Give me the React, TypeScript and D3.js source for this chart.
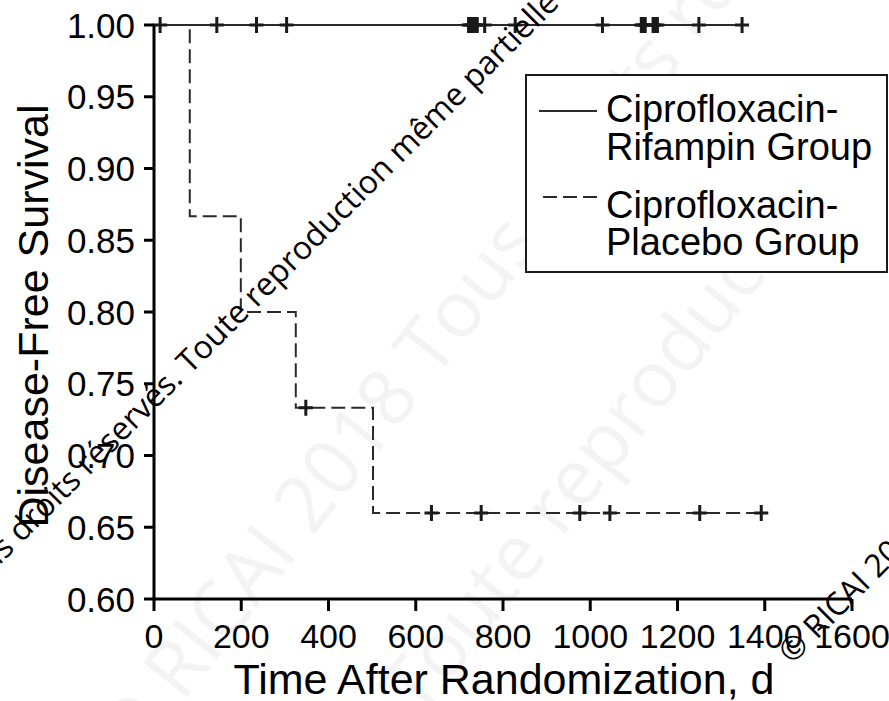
import React from "react";
import * as d3 from "d3";

// ---- Data ----
const placeboTimes = [0, 82, 199, 325, 502, 1392];
const placeboSurv = [1, 0.8667, 0.8, 0.7333, 0.66, 0.66];
const rifampinTimes = [0, 1348];
const rifampinSurv = [1, 1];
const rifampinCensor = [14, 144, 235, 304, 721, 725, 729, 733, 737, 741, 758, 828, 1028, 1117, 1121, 1126, 1144, 1149, 1154, 1249, 1348];
const placeboCensor = [348, 636, 750, 976, 1045, 1251, 1392];
const xTicks = [0, 200, 400, 600, 800, 1000, 1200, 1400, 1600];
const yTicks = [0.6, 0.65, 0.7, 0.75, 0.8, 0.85, 0.9, 0.95, 1.0];
const legendLabels = [
  ["Ciprofloxacin-", "Rifampin Group"],
  ["Ciprofloxacin-", "Placebo Group"],
];
const xTitle = "Time After Randomization, d";
const yTitle = "Disease-Free Survival";

const W = 889;
const H = 701;
const FONT = "'Liberation Sans', Arial, Helvetica, sans-serif";
const WM_FONT = "'Open Sans', 'Noto Sans', sans-serif";
const NBSP = "\u00A0";

export default function App() {
  const x = d3.scaleLinear().domain([0, 1600]).range([154, 852]);
  const y = d3.scaleLinear().domain([0.6, 1.0]).range([599, 25]);

  const line = d3
    .line<[number, number]>()
    .x((d) => x(d[0]))
    .y((d) => y(d[1]))
    .curve(d3.curveStepAfter);

  const placeboPts: [number, number][] = placeboTimes.map((t, i) => [t, placeboSurv[i]]);
  const rifPts: [number, number][] = rifampinTimes.map((t, i) => [t, rifampinSurv[i]]);

  const survAt = (times: number[], surv: number[], t: number) => {
    let s = surv[0];
    for (let i = 0; i < times.length; i++) if (times[i] <= t) s = surv[i];
    return s;
  };

  const plus = "M-7,0H7M0,-8V8";
  const lineColor = "#2a2a2a";

  return (
    <svg
      width={W}
      height={H}
      viewBox={`0 0 ${W} ${H}`}
      style={{ position: "fixed", left: 0, top: 0, background: "#fff" }}
    >
      <rect x={0} y={0} width={W} height={H} fill="#fff" />

      {/* faint background watermark */}
      <g fill="#f3f3f3" fontFamily={WM_FONT} fontSize={78}>
        <text transform="translate(130,770) rotate(-52)">© RICAI 2018 Tous droits réservés</text>
        <text transform="translate(420,720) rotate(-52)">Toute reproduction</text>
      </g>

      {/* survival curves */}
      <path d={line(rifPts) || ""} fill="none" stroke={lineColor} strokeWidth={2} />
      <path
        d={line(placeboPts) || ""}
        fill="none"
        stroke={lineColor}
        strokeWidth={2}
        strokeDasharray="14,6"
      />

      {/* censor marks */}
      <g stroke="#1a1a1a" strokeWidth={3} fill="none">
        {rifampinCensor.map((t, i) => (
          <path key={"r" + i} d={plus} transform={`translate(${x(t)},${y(survAt(rifampinTimes, rifampinSurv, t))})`} />
        ))}
        {placeboCensor.map((t, i) => (
          <path key={"p" + i} d={plus} transform={`translate(${x(t)},${y(survAt(placeboTimes, placeboSurv, t))})`} />
        ))}
      </g>

      {/* axes */}
      <g stroke="#000" strokeWidth={3} fill="none">
        <line x1={x(0)} x2={x(0)} y1={y(1.0)} y2={y(0.6) + 1.5} />
        <line x1={x(0) - 1.5} x2={x(1600)} y1={y(0.6)} y2={y(0.6)} />
        {yTicks.map((v) => (
          <line key={"yt" + v} x1={x(0) - 10} x2={x(0)} y1={y(v)} y2={y(v)} />
        ))}
        {xTicks.map((v) => (
          <line key={"xt" + v} x1={x(v)} x2={x(v)} y1={y(0.6)} y2={y(0.6) + 12} />
        ))}
      </g>
      <g fontFamily={FONT} fill="#000">
        {yTicks.map((v) => (
          <text key={"yl" + v} x={135} y={y(v)} dy="0.36em" fontSize={35} textAnchor="end">
            {d3.format(".2f")(v)}
          </text>
        ))}
        {xTicks.map((v) => (
          <text key={"xl" + v} x={x(v)} y={648} fontSize={34} textAnchor="middle">
            {v}
          </text>
        ))}
        <text x={504} y={694} fontSize={43} textAnchor="middle">
          {xTitle}
        </text>
        <text transform="translate(48,316) rotate(-90)" fontSize={43} textAnchor="middle">
          {yTitle}
        </text>
      </g>

      {/* legend */}
      <g>
        <rect x={526} y={75} width={361} height={197} fill="#fff" stroke="#1a1a1a" strokeWidth={2} />
        <line x1={539} x2={597} y1={111} y2={111} stroke={lineColor} strokeWidth={2} />
        <line x1={543} x2={597} y1={197} y2={197} stroke={lineColor} strokeWidth={2} strokeDasharray="14,6" />
        <g fontFamily={FONT} fontSize={38} fill="#000">
          <text x={606} y={122}>{legendLabels[0][0]}</text>
          <text x={606} y={160}>{legendLabels[0][1]}</text>
          <text x={606} y={218}>{legendLabels[1][0]}</text>
          <text x={606} y={255}>{legendLabels[1][1]}</text>
        </g>
      </g>

      {/* black diagonal watermark */}
      <g fontFamily={WM_FONT} fontSize={32} fill="#000">
        <text transform="translate(190,375) rotate(-45)" textAnchor="end">
          {"© RICAI 2018 Tous droits réservés." + NBSP}
        </text>
        <text transform="translate(190,375) rotate(-45)" textAnchor="start">
          {"Toute reproduction même partielle" + NBSP + "interdite"}
        </text>
        <text transform="translate(792,665) rotate(-45)" textAnchor="start">
          © RICAI 2018 Tous droits réservés.
        </text>
      </g>
    </svg>
  );
}
